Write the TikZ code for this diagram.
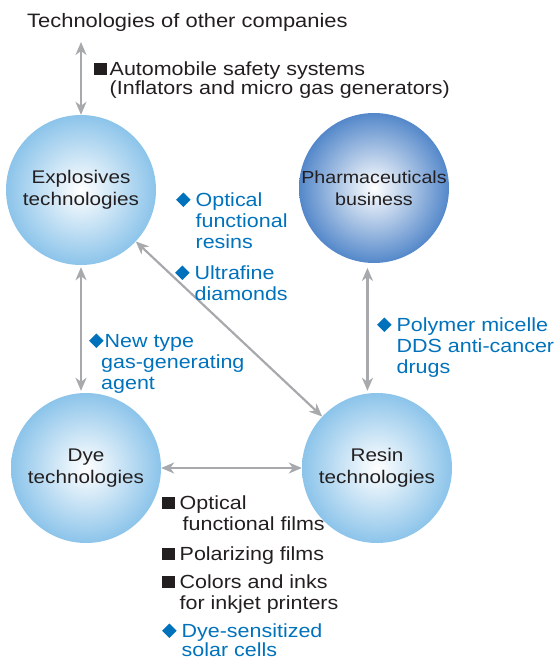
\documentclass[tikz,border=0pt]{standalone}
\usepackage{fontspec}
\setmainfont{Liberation Sans}[FakeStretch=1.13]
\usetikzlibrary{arrows.meta}

\definecolor{inkgray}{RGB}{35,31,32}
\definecolor{linkgray}{RGB}{167,169,172}
\definecolor{itemblue}{RGB}{0,114,188}
\definecolor{techblue}{RGB}{140,196,234}
\definecolor{pharmblue}{RGB}{84,136,202}

\newcommand{\sqbul}{\rule{12.5pt}{12.5pt}}
\newcommand{\dmbul}{\raisebox{-1pt}{\rotatebox{45}{\rule{10.2pt}{10.2pt}}}}

\begin{document}
\begin{tikzpicture}[x=1pt,y=-1pt]
    \tikzstyle{tech}=[circle,minimum size=150pt,inner sep=0pt,align=center,text=inkgray,shading=radial,inner color=white,outer color=techblue,font=\fontsize{18.3}{22}\selectfont]
    \tikzstyle{link}=[draw=linkgray,line width=2.2pt,{Stealth[length=13pt,width=11pt,inset=4pt]}-{Stealth[length=13pt,width=11pt,inset=4pt]}]
    \tikzstyle{note}=[anchor=base west,inner sep=0pt,text=inkgray,font=\fontsize{19}{21}\selectfont]
    \tikzstyle{bluenote}=[note,text=itemblue]
    \useasboundingbox (0,0) rectangle (556,661);

    \node[tech] (expl) at (81,190) {Explosives\\technologies};
    \node[tech,outer color=pharmblue,font=\fontsize{17.4}{22}\selectfont] (pharma) at (374,188) {Pharmaceuticals\\business};
    \node[tech] (dye) at (86,468) {Dye\\technologies};
    \node[tech] (resin) at (377,468) {Resin\\technologies};

    \node[note,font=\fontsize{19.4}{21}\selectfont] (others) at (27,28) {Technologies of other companies};
    \coordinate (otherend) at (81,42);

    \draw[link] (otherend) -- (expl.north);
    \draw[link,shorten <=2pt,shorten >=2pt] (expl.south) -- (expl.south |- dye.north);
    \draw[link] (expl) -- (resin);
    \draw[link,shorten <=5pt,shorten >=2pt] (pharma.265) -- (pharma.265 |- resin.north);
    \draw[link] (dye) -- (resin);

    \node[note,font=\fontsize{19}{18}\selectfont] (safety) at (94,75) {\begin{tabular}[t]{@{}l@{\hspace{3pt}}l@{}}\sqbul & Automobile safety systems\\ & (Inflators and micro gas generators)\end{tabular}};
    \node[bluenote] (optres) at (176,206) {\begin{tabular}[t]{@{}l@{\hspace{5pt}}l@{}}\dmbul & Optical\\ & functional\\ & resins\end{tabular}};
    \node[bluenote] (diamonds) at (175,279) {\begin{tabular}[t]{@{}l@{\hspace{5pt}}l@{}}\dmbul & Ultrafine\\ & diamonds\end{tabular}};
    \node[bluenote] (gasgen) at (89,347) {\begin{tabular}[t]{@{}l@{\hspace{1pt}}l@{}}\dmbul & New type\\ \multicolumn{2}{@{\hspace{12pt}}l@{}}{gas-generating}\\ \multicolumn{2}{@{\hspace{12pt}}l@{}}{agent}\end{tabular}};
    \node[bluenote] (micelle) at (377,331) {\begin{tabular}[t]{@{}l@{\hspace{5pt}}l@{}}\dmbul & Polymer micelle\\ & DDS anti-cancer\\ & drugs\end{tabular}};
    \node[note] (films) at (162,509) {\begin{tabular}[t]{@{}l@{\hspace{5pt}}l@{}}\sqbul & Optical\\ & \hspace{3pt}functional films\end{tabular}};
    \node[note] (polar) at (162,560) {\begin{tabular}[t]{@{}l@{\hspace{5pt}}l@{}}\sqbul & Polarizing films\end{tabular}};
    \node[note] (inks) at (162,588) {\begin{tabular}[t]{@{}l@{\hspace{5pt}}l@{}}\sqbul & Colors and inks\\ & for inkjet printers\end{tabular}};
    \node[bluenote,font=\fontsize{19}{19.5}\selectfont] (solar) at (162,637) {\begin{tabular}[t]{@{}l@{\hspace{5pt}}l@{}}\dmbul & Dye-sensitized\\ & solar cells\end{tabular}};
\end{tikzpicture}
\end{document}
